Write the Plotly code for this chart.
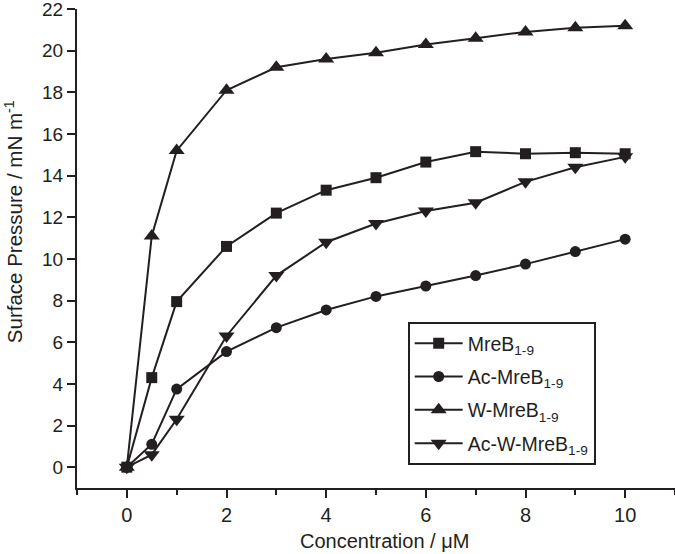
import plotly.graph_objects as go

conc = [0, 0.5, 1, 2, 3, 4, 5, 6, 7, 8, 9, 10]
mreb = [0, 4.3, 7.95, 10.6, 12.2, 13.3, 13.9, 14.65, 15.15, 15.05, 15.1, 15.05]
ac_mreb = [0, 1.1, 3.75, 5.55, 6.7, 7.55, 8.2, 8.7, 9.2, 9.75, 10.35, 10.95]
w_mreb = [0, 11.1, 15.2, 18.1, 19.2, 19.6, 19.9, 20.3, 20.6, 20.9, 21.1, 21.2]
ac_w_mreb = [0, 0.6, 2.3, 6.3, 9.2, 10.8, 11.7, 12.3, 12.7, 13.7, 14.4, 14.9]

names = ["MreB<sub>1-9</sub>", "Ac-MreB<sub>1-9</sub>", "W-MreB<sub>1-9</sub>", "Ac-W-MreB<sub>1-9</sub>"]
series = [mreb, ac_mreb, w_mreb, ac_w_mreb]
symbols = ["square", "circle", "triangle-up", "triangle-down"]
sizes = [11, 11, 14, 14]
x_title = "Concentration / μM"
y_title = "Surface Pressure / mN m<sup>-1</sup>"

ink = "#231f20"
fig = go.Figure()
for i, (name, ys, sym, sz) in enumerate(zip(names, series, symbols, sizes)):
    fig.add_trace(go.Scatter(
        x=conc, y=ys, name=name, mode="lines+markers", legendgroup=f"g{i}",
        line=dict(color=ink, width=2),
        marker=dict(symbol=sym, size=sz, color=ink),
        cliponaxis=False,
    ))

fig.update_layout(
    width=675, height=554,
    margin=dict(l=77, r=0, t=9, b=66),
    paper_bgcolor="white", plot_bgcolor="white",
    font=dict(family="Liberation Sans, Arial, sans-serif", size=20, color=ink),
    showlegend=True,
    legend=dict(
        x=0.553, y=0.3466, xanchor="left", yanchor="top",
        bordercolor=ink, borderwidth=2, bgcolor="white",
        font=dict(size=19.5), tracegroupgap=5, itemwidth=48,
    ),
    xaxis=dict(
        range=[-1, 11], tick0=0, dtick=2, automargin=False, ticklabeloverflow="allow",
        showline=True, linecolor=ink, linewidth=2,
        ticks="outside", ticklen=8, tickwidth=2, tickcolor=ink,
        minor=dict(ticks="outside", ticklen=5, tickwidth=2, tickcolor=ink, dtick=1, tick0=0),
        showgrid=False, zeroline=False,
        tickfont=dict(size=20),
    ),
    yaxis=dict(
        range=[-1, 22], tick0=0, dtick=2, automargin=False, ticklabeloverflow="allow",
        showline=True, linecolor=ink, linewidth=2,
        ticks="outside", ticklen=8, tickwidth=2, tickcolor=ink,
        showgrid=False, zeroline=False,
        tickfont=dict(size=19),
    ),
    annotations=[
        dict(text=x_title, xref="paper", yref="paper", x=0.515, y=-0.1107,
             xanchor="center", yanchor="middle", showarrow=False, font=dict(size=20)),
        dict(text=y_title, xref="paper", yref="paper", x=0, y=0.555, xshift=-63,
             xanchor="center", yanchor="middle", textangle=-90, showarrow=False,
             font=dict(size=20.5)),
    ],
)

fig.write_html("out.html", config={"displayModeBar": False},
               post_script="document.body.style.margin='0';")
